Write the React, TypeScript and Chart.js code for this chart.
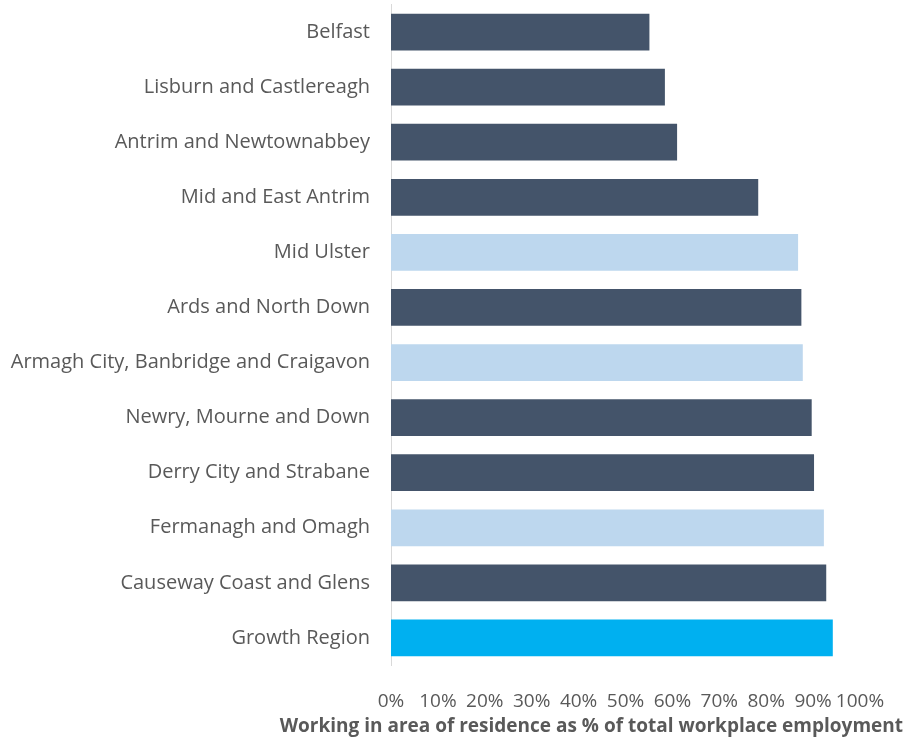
import React, { useEffect, useRef } from "react";
import { Chart, registerables } from "chart.js";

Chart.register(...registerables);

const categories = [
  "Belfast",
  "Lisburn and Castlereagh",
  "Antrim and Newtownabbey",
  "Mid and East Antrim",
  "Mid Ulster",
  "Ards and North Down",
  "Armagh City, Banbridge and Craigavon",
  "Newry, Mourne and Down",
  "Derry City and Strabane",
  "Fermanagh and Omagh",
  "Causeway Coast and Glens",
  "Growth Region",
];

const values = [55.1, 58.4, 61.0, 78.3, 86.8, 87.5, 87.8, 89.7, 90.2, 92.3, 92.8, 94.2];

const barColors = [
  "#44546A", "#44546A", "#44546A", "#44546A",
  "#BDD7EE", "#44546A", "#BDD7EE", "#44546A",
  "#44546A", "#BDD7EE", "#44546A", "#00B0F0",
];

const xTicks = [0, 10, 20, 30, 40, 50, 60, 70, 80, 90, 100];
const xTitle = "Working in area of residence as % of total workplace employment";

const FONT = "'Open Sans', 'DejaVu Sans', sans-serif";

export default function App() {
  const ref = useRef<HTMLCanvasElement>(null);

  useEffect(() => {
    document.body.style.margin = "0";
    document.body.style.overflow = "hidden";
    const canvas = ref.current;
    if (!canvas) return;

    const titlePlugin = {
      id: "xTitlePlugin",
      afterDraw(chart: any) {
        const ctx = chart.ctx;
        ctx.save();
        ctx.font = `bold 19px ${FONT}`;
        ctx.fillStyle = "#595959";
        ctx.textAlign = "right";
        ctx.textBaseline = "middle";
        ctx.fillText(xTitle, chart.width - 2, 727);
        ctx.restore();
      },
    };

    const chart = new Chart(canvas, {
      type: "bar",
      data: {
        labels: categories,
        datasets: [
          {
            data: values,
            backgroundColor: barColors,
            borderWidth: 0,
            barPercentage: 0.667,
            categoryPercentage: 1,
          },
        ],
      },
      options: {
        indexAxis: "y",
        animation: false,
        responsive: false,
        maintainAspectRatio: false,
        layout: { padding: { top: 4.5, right: 45, left: 0, bottom: 0 } },
        plugins: {
          legend: { display: false },
          tooltip: { enabled: false },
        },
        scales: {
          x: {
            min: 0,
            max: 100,
            afterBuildTicks(scale: any) {
              scale.ticks = xTicks.map((v) => ({ value: v }));
            },
            afterFit(scale: any) {
              scale.height = 73.5;
              scale.paddingLeft = 0;
              scale.paddingRight = 0;
            },
            grid: { display: false, drawTicks: false },
            border: { display: false },
            ticks: {
              padding: 25,
              maxRotation: 0,
              autoSkip: false,
              color: "#595959",
              font: { family: FONT, size: 19 },
              callback: (v: any) => `${v}%`,
            },
          },
          y: {
            afterFit(scale: any) {
              scale.width = 391;
              scale.paddingTop = 0;
              scale.paddingBottom = 0;
            },
            grid: { display: false, drawTicks: false },
            border: { display: true, color: "#D9D9D9", width: 1 },
            ticks: {
              padding: 21,
              autoSkip: false,
              color: "#595959",
              font: { family: FONT, size: 20 },
            },
          },
        },
      },
      plugins: [titlePlugin],
    });

    return () => chart.destroy();
  }, []);

  return (
    <div style={{ width: 905, height: 739 }}>
      <canvas ref={ref} width={905} height={739} style={{ display: "block" }} />
    </div>
  );
}
